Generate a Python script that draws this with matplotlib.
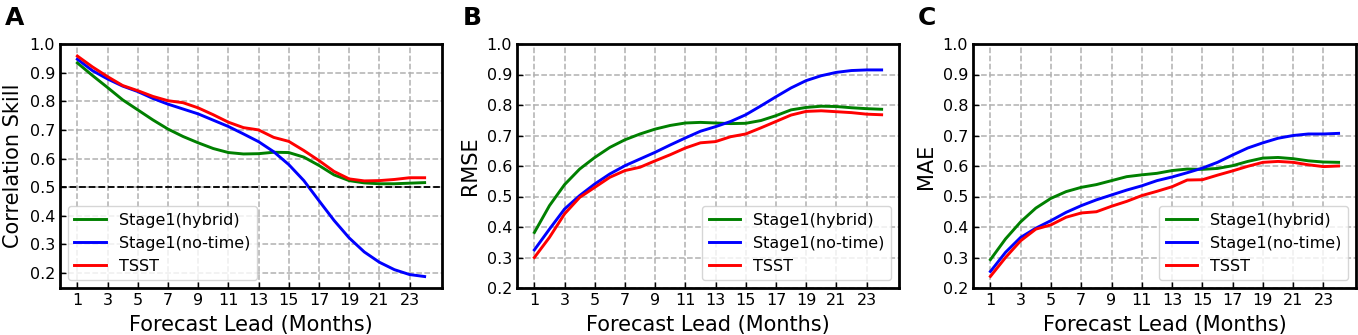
import matplotlib
matplotlib.use("Agg")
import matplotlib.pyplot as plt
import numpy as np

leads = list(range(1, 25))
xticks = list(range(1, 24, 2))
series_names = ["Stage1(hybrid)", "Stage1(no-time)", "TSST"]
series_colors = ["green", "blue", "red"]

corr_hybrid = [0.934, 0.89, 0.848, 0.805, 0.77, 0.735, 0.703, 0.677, 0.655, 0.635, 0.621, 0.616,
               0.617, 0.622, 0.621, 0.605, 0.576, 0.543, 0.523, 0.515, 0.512, 0.512, 0.514, 0.516]
corr_notime = [0.947, 0.907, 0.878, 0.853, 0.834, 0.81, 0.79, 0.773, 0.756, 0.734, 0.712, 0.686,
               0.659, 0.624, 0.579, 0.523, 0.453, 0.384, 0.323, 0.274, 0.238, 0.212, 0.195, 0.188]
corr_tsst = [0.958, 0.92, 0.886, 0.855, 0.837, 0.817, 0.802, 0.795, 0.777, 0.753, 0.727, 0.708,
             0.70, 0.674, 0.66, 0.628, 0.593, 0.555, 0.529, 0.522, 0.523, 0.527, 0.533, 0.533]

rmse_hybrid = [0.382, 0.47, 0.539, 0.59, 0.628, 0.661, 0.686, 0.705, 0.721, 0.733, 0.741, 0.743,
               0.741, 0.739, 0.74, 0.749, 0.765, 0.784, 0.792, 0.796, 0.795, 0.791, 0.788, 0.786]
rmse_notime = [0.325, 0.393, 0.459, 0.503, 0.541, 0.574, 0.601, 0.623, 0.645, 0.669, 0.692, 0.714,
               0.729, 0.746, 0.768, 0.797, 0.827, 0.856, 0.88, 0.896, 0.907, 0.913, 0.915, 0.915]
rmse_tsst = [0.30, 0.366, 0.443, 0.497, 0.53, 0.563, 0.585, 0.596, 0.617, 0.637, 0.659, 0.676,
             0.68, 0.696, 0.705, 0.725, 0.746, 0.767, 0.779, 0.781, 0.778, 0.775, 0.77, 0.768]

mae_hybrid = [0.293, 0.361, 0.417, 0.462, 0.494, 0.516, 0.53, 0.539, 0.552, 0.565, 0.571, 0.576,
              0.585, 0.59, 0.589, 0.592, 0.601, 0.615, 0.626, 0.628, 0.624, 0.617, 0.613, 0.612]
mae_notime = [0.254, 0.317, 0.366, 0.396, 0.421, 0.448, 0.47, 0.489, 0.505, 0.521, 0.535, 0.552,
              0.564, 0.578, 0.593, 0.612, 0.636, 0.659, 0.676, 0.691, 0.70, 0.705, 0.705, 0.707]
mae_tsst = [0.238, 0.30, 0.355, 0.393, 0.407, 0.432, 0.446, 0.45, 0.468, 0.484, 0.503, 0.517,
            0.532, 0.554, 0.555, 0.57, 0.584, 0.599, 0.612, 0.615, 0.612, 0.604, 0.598, 0.6]

panels = [
    ("A", "Correlation Skill", [corr_hybrid, corr_notime, corr_tsst], "lower left", (0.148, 1.0)),
    ("B", "RMSE", [rmse_hybrid, rmse_notime, rmse_tsst], "lower right", (0.2, 1.0)),
    ("C", "MAE", [mae_hybrid, mae_notime, mae_tsst], "lower right", (0.2, 1.0)),
]
yticks = [0.2, 0.3, 0.4, 0.5, 0.6, 0.7, 0.8, 0.9, 1.0]

W, H = 1358, 335
fig = plt.figure(figsize=(W / 100, H / 100), dpi=100)
lefts = [60, 517, 973]
rights = [442, 899, 1356]
top_px, bot_px = 44, 288
letter_x = [5, 463, 918]

for i, (letter, ylabel, data, loc, ylim) in enumerate(panels):
    ax = fig.add_axes([lefts[i] / W, 1 - bot_px / H, (rights[i] - lefts[i]) / W, (bot_px - top_px) / H])
    for vals, name, c in zip(data, series_names, series_colors):
        ax.plot(leads, vals, color=c, lw=2.1, label=name)
    if letter == "A":
        ax.axhline(0.5, color="black", ls="--", lw=1.3)
    ax.set_xticks(xticks)
    ax.set_yticks(yticks)
    ax.set_yticklabels([f"{v:.1f}" for v in yticks])
    ax.set_ylim(*ylim)
    ax.grid(True, color="#b0b0b0", ls="--", lw=1.1)
    ax.set_axisbelow(True)
    ax.tick_params(direction="in", labelsize=11.5, length=4, width=1)
    for s in ax.spines.values():
        s.set_linewidth(2)
    ax.set_xlabel("Forecast Lead (Months)", fontsize=15, labelpad=5.5)
    ax.set_ylabel(ylabel, fontsize=15, labelpad=5)
    ax.legend(loc=loc, fontsize=11.5, framealpha=0.8)
    fig.text(letter_x[i] / W, 1 - 6 / H, letter, fontsize=18, fontweight="bold", va="top", ha="left")

fig.savefig("out.png", dpi=100)
